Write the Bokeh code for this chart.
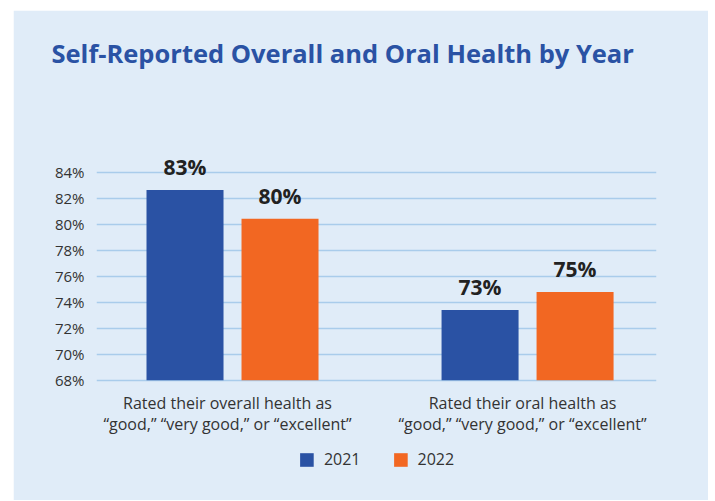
from bokeh.plotting import figure
from bokeh.models import (ColumnDataSource, FixedTicker, PrintfTickFormatter, Range1d,
                          Legend, LegendItem)
from bokeh.core.properties import value
from bokeh.embed import file_html
from bokeh.resources import INLINE

# ---- data ----
categories = ["Rated their overall health as\n\u201cgood,\u201d \u201cvery good,\u201d or \u201cexcellent\u201d",
              "Rated their oral health as\n\u201cgood,\u201d \u201cvery good,\u201d or \u201cexcellent\u201d"]
years = ["2021", "2022"]
values_2021 = [82.65, 73.4]
values_2022 = [80.43, 74.8]
y_ticks = [68, 70, 72, 74, 76, 78, 80, 82, 84]
axis_floor = 68
title_text = "Self-Reported Overall and Oral Health by Year"

# ---- styles ----
BG = "#e0ecf8"
BLUE = "#2a52a4"
ORANGE = "#f26722"
GRID = "#a9cceb"
TEXT = "#333333"
FONT = "Open Sans"

cat_pos = [1, 2]
offset = 0.161
bar_w = 0.261

p = figure(width=695, height=490, output_backend="svg", toolbar_location=None,
           x_range=Range1d(0.539, 2.437), y_range=Range1d(59.5, 91.55),
           min_border_left=83, min_border_right=52, min_border_top=64, min_border_bottom=10)
p.background_fill_color = BG
p.border_fill_color = BG
p.outline_line_color = BG
p.outline_line_width = 2
p.styles = {"margin-left": "13px", "margin-top": "10px"}

src1 = ColumnDataSource(dict(x=[c - offset for c in cat_pos], top=values_2021,
                             lab=[f"{round(v)}%" for v in values_2021]))
src2 = ColumnDataSource(dict(x=[c + offset for c in cat_pos], top=values_2022,
                             lab=[f"{round(v)}%" for v in values_2022]))

r1 = p.vbar(x="x", top="top", bottom=axis_floor, width=bar_w, source=src1, fill_color=BLUE, line_color=None)
r2 = p.vbar(x="x", top="top", bottom=axis_floor, width=bar_w, source=src2, fill_color=ORANGE, line_color=None)

for s in (src1, src2):
    p.text(x="x", y="top", text="lab", source=s, text_font=value(FONT), text_font_style="bold",
           text_font_size="21px", text_color="#222222", text_align="center",
           text_baseline="alphabetic", y_offset=-23)

# category labels under the bars
csrc = ColumnDataSource(dict(x=cat_pos, y=[axis_floor] * len(cat_pos), t=categories))
p.text(x="x", y="y", text="t", source=csrc, text_font=value(FONT), text_font_size="16px",
       text_color=TEXT, text_align="center", text_baseline="top", text_line_height=0.95,
       y_offset=12, x_offset=-5)

# axes
p.yaxis.ticker = FixedTicker(ticks=y_ticks)
p.yaxis.formatter = PrintfTickFormatter(format="%d%%")
p.yaxis.axis_line_color = None
p.yaxis.major_tick_line_color = None
p.yaxis.minor_tick_line_color = None
p.yaxis.major_label_text_font = FONT
p.yaxis.major_label_text_font_size = "15px"
p.yaxis.major_label_text_color = TEXT
p.yaxis.major_label_standoff = 6
p.xaxis.visible = False

p.xgrid.grid_line_color = None
p.ygrid.grid_line_color = GRID
p.ygrid.grid_line_width = 1.5

# title
p.title.text = title_text
p.title.text_font = FONT
p.title.text_font_size = "25.5px"
p.title.text_font_style = "bold"
p.title.text_color = BLUE
p.title.align = "left"
p.title.offset = -45
p.title.standoff = 10

legend = Legend(items=[LegendItem(label=years[0], renderers=[r1]),
                       LegendItem(label=years[1], renderers=[r2])],
                orientation="horizontal", location="bottom_center",
                background_fill_alpha=0, border_line_color=None, margin=20, padding=10,
                glyph_width=17, glyph_height=17, label_standoff=9, spacing=31,
                label_text_font=FONT, label_text_font_size="16px", label_text_color=TEXT)
p.add_layout(legend, "center")

open("out.html", "w").write(file_html(p, INLINE))
